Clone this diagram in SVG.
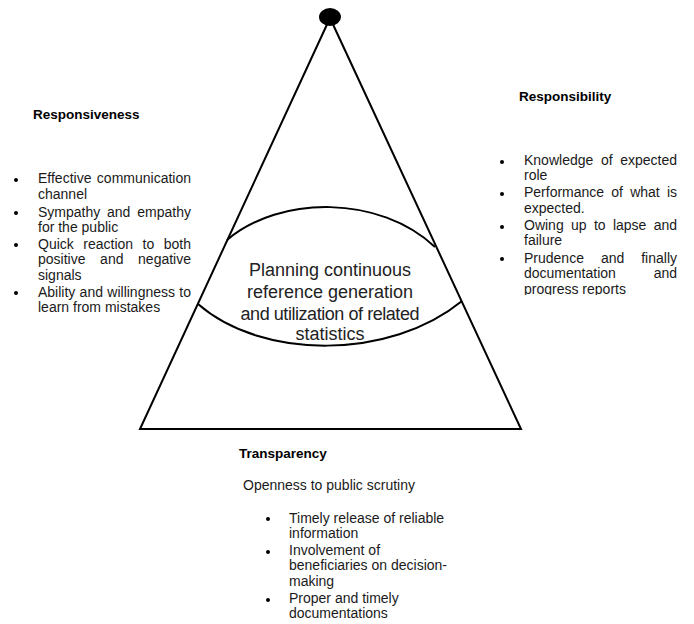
<svg xmlns="http://www.w3.org/2000/svg" width="694" height="624" viewBox="0 0 694 624">
<style>
text{font-family:"Liberation Sans",Arial,sans-serif;font-size:14px;fill:#1a1a1a}
.h{font-weight:bold;font-size:13.5px;fill:#000}
.c{font-size:18px;text-anchor:middle;fill:#222}
.e{text-anchor:end}
.ln{fill:none;stroke:#000;stroke-width:2}
.b{fill:#000}
</style>
<defs>
<clipPath id="clipR"><rect x="490" y="140" width="204" height="155"/></clipPath>
</defs>
<g id="connectors">
<path class="ln" d="M330,18 L140,429 L521,429 Z"/>
<path class="ln" d="M227,240 C280,195 380,195 435,247"/>
<path class="ln" d="M198,304 C262,360 390,360 462,301"/>
</g>
<g id="apex">
<ellipse cx="330" cy="17" rx="11" ry="9" fill="#000"/>
</g>
<g id="center">
<text class="c" x="330" y="276">Planning continuous</text>
<text class="c" x="330" y="298">reference generation</text>
<text class="c" x="330" y="320" textLength="179" lengthAdjust="spacing">and utilization of related</text>
<text class="c" x="330" y="340">statistics</text>
</g>
<g id="responsiveness">
<text class="h" x="33" y="119">Responsiveness</text>
<circle class="b" cx="16" cy="180" r="2"/>
<circle class="b" cx="16" cy="213" r="2"/>
<circle class="b" cx="16" cy="245" r="2"/>
<circle class="b" cx="16" cy="293" r="2"/>
<text x="38" y="183">Effective</text><text class="e" x="191" y="183">communication</text>
<text x="38" y="199">channel</text>
<text x="38" y="216.5">Sympathy</text><text x="107" y="216.5">and</text><text class="e" x="191" y="216.5">empathy</text>
<text x="38" y="232">for the public</text>
<text x="38" y="248.5">Quick</text><text x="83.3" y="248.5">reaction</text><text x="142.6" y="248.5">to</text><text class="e" x="191" y="248.5">both</text>
<text x="38" y="264">positive</text><text x="100.1" y="264">and</text><text class="e" x="191" y="264">negative</text>
<text x="38" y="280">signals</text>
<text x="38" y="296.5">Ability</text><text x="79.6" y="296.5">and</text><text x="107.3" y="296.5">willingness</text><text class="e" x="191" y="296.5">to</text>
<text x="38" y="312">learn from mistakes</text>
</g>
<g id="responsibility">
<text class="h" x="519" y="100.5">Responsibility</text>
<circle class="b" cx="502" cy="162" r="2"/>
<circle class="b" cx="502" cy="194" r="2"/>
<circle class="b" cx="502" cy="227" r="2"/>
<circle class="b" cx="502" cy="259" r="2"/>
<g clip-path="url(#clipR)">
<text x="524" y="165">Knowledge</text><text x="600.9" y="165">of</text><text class="e" x="677" y="165">expected</text>
<text x="524" y="180">role</text>
<text x="524" y="197">Performance</text><text x="611.3" y="197">of</text><text x="630.2" y="197">what</text><text class="e" x="677" y="197">is</text>
<text x="524" y="212.5">expected.</text>
<text x="524" y="230">Owing</text><text x="571" y="230">up</text><text x="593.9" y="230">to</text><text x="612.9" y="230">lapse</text><text class="e" x="677" y="230">and</text>
<text x="524" y="245">failure</text>
<text x="524" y="262.5">Prudence</text><text x="600.9" y="262.5">and</text><text class="e" x="677" y="262.5">finally</text>
<text x="524" y="278">documentation</text><text class="e" x="677" y="278">and</text>
<text x="524" y="293.5">progress reports</text>
</g>
</g>
<g id="transparency">
<text class="h" x="239" y="458">Transparency</text>
<text x="243" y="490">Openness to public scrutiny</text>
<circle class="b" cx="268" cy="519" r="2"/>
<circle class="b" cx="268" cy="552" r="2"/>
<circle class="b" cx="268" cy="600" r="2"/>
<text x="289" y="522.5">Timely release of reliable</text>
<text x="289" y="537.5">information</text>
<text x="289" y="555">Involvement of</text>
<text x="289" y="570">beneficiaries on decision-</text>
<text x="289" y="585.5">making</text>
<text x="289" y="603">Proper and timely</text>
<text x="289" y="618">documentations</text>
</g>
</svg>
